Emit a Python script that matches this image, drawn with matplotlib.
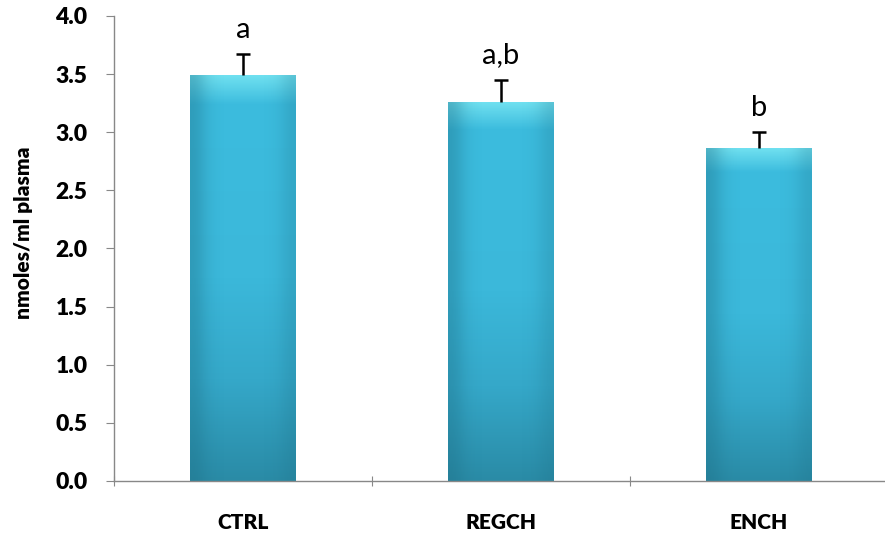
import numpy as np
import matplotlib.pyplot as plt
from matplotlib.colors import LinearSegmentedColormap

groups = ["CTRL", "REGCH", "ENCH"]
means = [3.49, 3.26, 2.86]
errors = [0.18, 0.19, 0.14]
letters = ["a", "a,b", "b"]

plt.rcParams['font.family'] = ['Lato', 'DejaVu Sans']
plt.rcParams['font.weight'] = 'bold'

fig = plt.figure(figsize=(8.85, 5.34), dpi=100)
ax = fig.add_axes([0.1288, 0.0993, 0.8746, 0.8708])

x = np.arange(len(groups)) + 0.5
width = 0.41

bars = ax.bar(x, means, width=width, color="#3bb8da", zorder=2)

# gradient fill on the bars
cmap = LinearSegmentedColormap.from_list(
    "bar", [(0, "#2a8ba6"), (0.25, "#35a8c9"), (0.5, "#3bb8da"), (0.93, "#3cbcde"), (1.0, "#6fe0f0")])
grad = np.linspace(0, 1, 256).reshape(-1, 1)
for b in bars:
    x0, y0 = b.get_x(), b.get_y()
    w, h = b.get_width(), b.get_height()
    im = ax.imshow(grad, extent=[x0, x0 + w, y0, y0 + h], origin="lower",
                   cmap=cmap, aspect="auto", zorder=2)
    im.set_clip_path(b)
    # darker edges left and right
    hgrad = np.array([[0.4, 0.1, 0.0, 0.0, 0.0, 0.0, 0.0, 0.05, 0.25]])
    im2 = ax.imshow(np.ones((1, 9)), extent=[x0, x0 + w, y0, y0 + h],
                    cmap=LinearSegmentedColormap.from_list("d", ["#1d6f86", "#1d6f86"]),
                    alpha=hgrad, aspect="auto", zorder=2, interpolation="bicubic")
    im2.set_clip_path(b)

# error bars, upper side only with a top cap
tops = np.array(means) + np.array(errors)
ax.vlines(x, means, tops, color="black", linewidth=1.8, zorder=3)
ax.plot(x, tops, linestyle="none", marker="_", markersize=10,
        markeredgewidth=1.8, color="black", zorder=3)

for xi, t, lab in zip(x, tops, letters):
    ax.text(xi, t + 0.1, lab, ha="center", va="bottom", fontsize=21,
            fontweight="normal")

ax.set_xlim(0, 3)
ax.set_ylim(0, 4.0)
ax.set_yticks(np.arange(0, 4.01, 0.5))
ax.set_yticklabels([f"{v:.1f}" for v in np.arange(0, 4.01, 0.5)], fontsize=16.5, fontweight="heavy")
ax.set_xticks([0, 1, 2, 3])
ax.set_xticklabels([])
ax.set_xticks(x, minor=True)
ax.set_xticklabels(groups, minor=True, fontsize=15, fontweight="heavy")
ax.tick_params(axis="x", which="minor", length=0, pad=23)
ax.tick_params(axis="x", which="major", length=7, color="#888888", direction="inout")
ax.tick_params(axis="y", length=6, color="#888888", direction="out", pad=13)
ax.set_ylabel("nmoles/ml plasma", fontsize=15, fontweight="heavy")
ax.yaxis.set_label_coords(-0.104, 0.533)

for s in ["top", "right"]:
    ax.spines[s].set_visible(False)
for s in ["left", "bottom"]:
    ax.spines[s].set_color("#888888")
    ax.spines[s].set_linewidth(1.0)

fig.savefig("out.png", dpi=100)
